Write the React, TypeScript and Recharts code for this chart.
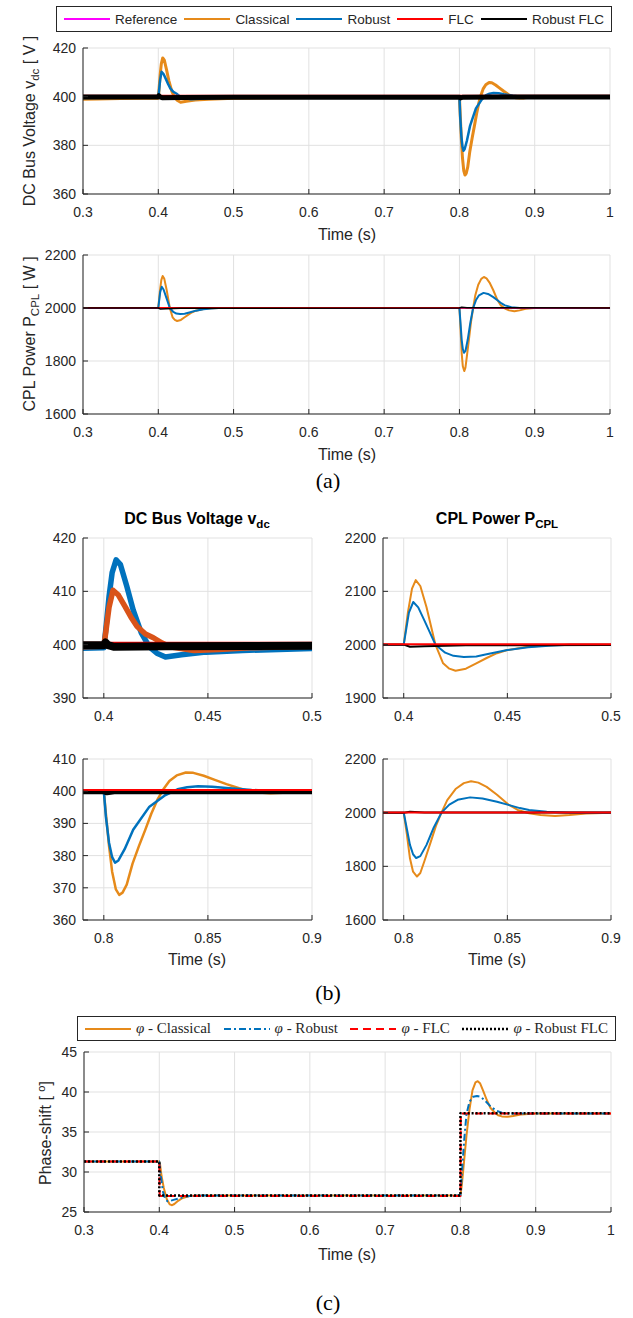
import React from 'react';
import { LineChart, Line, XAxis, YAxis, CartesianGrid } from 'recharts';

type Pt = [number, number];

// axis ticks
const timeTicks = [0.3, 0.4, 0.5, 0.6, 0.7, 0.8, 0.9, 1];
const zoomTicks1 = [0.4, 0.45, 0.5];
const zoomTicks2 = [0.8, 0.85, 0.9];
const vdcTicks = [360, 380, 400, 420];
const vdcTicks1 = [390, 400, 410, 420];
const vdcTicks2 = [360, 370, 380, 390, 400, 410];
const pTicks = [1600, 1800, 2000, 2200];
const pTicks1 = [1900, 2000, 2100, 2200];
const phiTicks = [25, 30, 35, 40, 45];

// DC bus voltage [V] vs time [s]
const vdcReference: Pt[] = [[0.3, 400], [1, 400]];
const vdcClassical: Pt[] = [
  [0.3, 398.9], [0.32, 399.0], [0.35, 399.2], [0.38, 399.3], [0.4, 399.4], [0.401, 403], [0.4025, 409],
  [0.404, 413.5], [0.4059, 415.9], [0.408, 415.0], [0.411, 411.0], [0.4141, 406.5], [0.418, 402.2],
  [0.4219, 399.6], [0.4255, 398.4], [0.4296, 397.7], [0.4373, 398.1], [0.449, 398.6], [0.4667, 398.9],
  [0.5, 399.3], [0.55, 399.6], [0.65, 399.8], [0.79, 399.9], [0.8, 400], [0.801, 393], [0.8025, 383],
  [0.804, 375], [0.8058, 369.5], [0.8074, 367.8], [0.809, 368.5], [0.811, 371], [0.8138, 377.5],
  [0.8169, 383], [0.8199, 388], [0.8228, 393], [0.8257, 397.3], [0.8286, 400.6], [0.8315, 403.2],
  [0.835, 404.9], [0.8394, 405.8], [0.843, 405.7], [0.848, 404.8], [0.853, 403.6], [0.8589, 402.2],
  [0.865, 400.9], [0.87, 400], [0.8744, 399.6], [0.88, 399.4], [0.886, 399.5], [0.893, 399.8], [0.9, 400],
  [1, 400],
];
const vdcRobust: Pt[] = [
  [0.3, 399.5], [0.35, 399.6], [0.39, 399.6], [0.4, 399.7], [0.401, 402.5], [0.4025, 407], [0.4044, 410.2],
  [0.407, 409.3], [0.4103, 407.1], [0.413, 405.2], [0.416, 403.4], [0.42, 402], [0.4238, 401.3],
  [0.428, 400.3], [0.4316, 399.6], [0.4433, 398.9], [0.455, 399.1], [0.47, 399.4], [0.5, 399.7],
  [0.6, 399.9], [0.8, 400], [0.801, 392], [0.8025, 384], [0.804, 379.5], [0.8054, 377.8], [0.807, 378.5],
  [0.81, 382], [0.8141, 388], [0.8219, 395.2], [0.8296, 398.8], [0.8354, 400.6], [0.84, 401.2],
  [0.8453, 401.5], [0.852, 401.4], [0.8589, 401], [0.871, 400.4], [0.88, 400.1], [0.9, 400], [1, 400],
];
const vdcFlc: Pt[] = [[0.3, 400.4], [1, 400.4]];
const vdcRobustFlc: Pt[] = [
  [0.3, 399.9], [0.4, 399.9], [0.4008, 400.4], [0.402, 399.9], [0.405, 399.6], [0.43, 399.7], [0.5, 399.8],
  [0.8, 399.8], [0.8015, 399.5], [0.805, 399.8], [1, 399.9],
];

// CPL power [W] vs time [s]
const pReference: Pt[] = [[0.3, 2000], [1, 2000]];
const pClassical: Pt[] = [
  [0.3, 2000], [0.4, 2000], [0.402, 2060], [0.404, 2105], [0.4058, 2121], [0.408, 2110], [0.411, 2070],
  [0.4153, 2000], [0.419, 1965], [0.422, 1955], [0.425, 1951], [0.43, 1955], [0.435, 1965], [0.44, 1975],
  [0.445, 1984], [0.45, 1990], [0.46, 1996], [0.47, 1999], [0.48, 2000], [0.8, 2000], [0.8015, 1920],
  [0.803, 1830], [0.8045, 1780], [0.8064, 1762], [0.808, 1775], [0.81, 1820], [0.813, 1890], [0.8155, 1950],
  [0.8182, 2000], [0.821, 2047], [0.825, 2088], [0.829, 2110], [0.8325, 2117], [0.836, 2112], [0.84, 2096],
  [0.845, 2067], [0.8505, 2030], [0.855, 2010], [0.8605, 1998], [0.866, 1991], [0.873, 1988], [0.88, 1991],
  [0.888, 1997], [0.9, 2000], [1, 2000],
];
const pRobust: Pt[] = [
  [0.3, 2000], [0.4, 2000], [0.4025, 2060], [0.4046, 2080], [0.407, 2070], [0.41, 2045], [0.4153, 2000],
  [0.42, 1985], [0.424, 1979], [0.429, 1977], [0.435, 1978], [0.44, 1982], [0.45, 1990], [0.46, 1995],
  [0.47, 1998], [0.48, 2000], [0.8, 2000], [0.8015, 1940], [0.803, 1880], [0.8045, 1845], [0.806, 1831],
  [0.808, 1838], [0.811, 1880], [0.8145, 1945], [0.8182, 2000], [0.822, 2030], [0.826, 2048], [0.832, 2057],
  [0.838, 2053], [0.845, 2041], [0.8505, 2029], [0.856, 2017], [0.8605, 2010], [0.869, 2003], [0.88, 2000],
  [1, 2000],
];
const pFlc: Pt[] = [[0.3, 2001], [1, 2001]];
const pRobustFlc: Pt[] = [
  [0.3, 2000], [0.4, 2000], [0.403, 1996], [0.41, 1997], [0.43, 1999], [0.8, 2000], [0.803, 2003],
  [0.81, 2001], [1, 2000],
];

// phase shift [deg] vs time [s]
const phiClassical: Pt[] = [
  [0.3, 31.3], [0.4, 31.3], [0.401, 31.0], [0.403, 29.5], [0.406, 28], [0.41, 26.6], [0.414, 25.95],
  [0.417, 25.85], [0.42, 26.0], [0.425, 26.4], [0.43, 26.7], [0.44, 27.0], [0.45, 27.05], [0.8, 27.05],
  [0.802, 28.5], [0.805, 31.5], [0.808, 34.5], [0.812, 37.8], [0.816, 40.2], [0.82, 41.2], [0.823, 41.35],
  [0.826, 41.1], [0.83, 40.2], [0.835, 39], [0.84, 38], [0.845, 37.5], [0.85, 37.1], [0.855, 36.95],
  [0.862, 36.9], [0.87, 37.0], [0.88, 37.2], [0.9, 37.3], [1, 37.3],
];
const phiRobust: Pt[] = [
  [0.3, 31.3], [0.4, 31.3], [0.402, 29.5], [0.405, 27.5], [0.408, 26.6], [0.411, 26.35], [0.415, 26.4],
  [0.42, 26.55], [0.43, 26.8], [0.44, 27.0], [0.45, 27.05], [0.8, 27.05], [0.802, 30], [0.805, 34],
  [0.808, 37.2], [0.812, 38.8], [0.817, 39.4], [0.822, 39.5], [0.827, 39.4], [0.833, 38.9], [0.84, 38.2],
  [0.847, 37.7], [0.855, 37.4], [0.865, 37.3], [1, 37.3],
];
const phiFlc: Pt[] = [[0.3, 31.3], [0.4, 31.3], [0.4005, 27.0], [0.8, 27.0], [0.8005, 37.3], [1, 37.3]];
const phiRobustFlc: Pt[] = [[0.3, 31.3], [0.4, 31.3], [0.4, 27.05], [0.8, 27.05], [0.8, 37.35], [1, 37.35]];

const ORANGE = '#E68A1A';
const BLUE = '#0072BD';
const RUST = '#D95319';
const RED = '#FF0000';
const PINK = '#FF00FF';
const BLACK = '#000000';
const AX = '#262626';
const SANS = '"Liberation Sans", Arial, Helvetica, sans-serif';
const SERIF = '"Liberation Serif", "Times New Roman", serif';

type Series = { data: Pt[]; color: string; width: number; dash?: string };

const toRows = (pts: Pt[]) => pts.map(([t, v]) => ({ t, v }));
const blank = () => '';

function Panel(props: {
  left: number; top: number; w: number; h: number;
  xDomain: [number, number]; xTicks: number[];
  yDomain: [number, number]; yTicks: number[];
  series: Series[];
}) {
  const { left, top, w, h, xDomain, xTicks, yDomain, yTicks, series } = props;
  const ML = 60, MT = 12, MR = 18, MB = 36;
  const tickStyle = { fill: AX, fontSize: 14, fontFamily: SANS };
  return (
    <div style={{ position: 'absolute', left: left - ML, top: top - MT }}>
      <LineChart width={w + ML + MR} height={h + MT + MB} margin={{ top: MT, right: MR, bottom: 0, left: 0 }}>
        <CartesianGrid xAxisId="x" yAxisId="y" stroke="#e1e1e1" />
        <XAxis xAxisId="x" type="number" dataKey="t" domain={xDomain} ticks={xTicks} allowDataOverflow
          height={MB} stroke={AX} tickSize={-5} tickMargin={18} tick={tickStyle} interval={0} />
        <XAxis xAxisId="top" orientation="top" type="number" dataKey="t" domain={xDomain} ticks={xTicks}
          allowDataOverflow height={0} stroke={AX} tickSize={-5} tickFormatter={blank} interval={0} />
        <YAxis yAxisId="y" type="number" domain={yDomain} ticks={yTicks} allowDataOverflow width={ML}
          stroke={AX} tickSize={-5} tickMargin={12} tick={tickStyle} interval={0} />
        <YAxis yAxisId="right" orientation="right" type="number" domain={yDomain} ticks={yTicks}
          allowDataOverflow width={0} stroke={AX} tickSize={-5} tickFormatter={blank} interval={0} />
        {series.map((s, i) => (
          <Line key={i} xAxisId="x" yAxisId="y" data={toRows(s.data)} dataKey="v" type="linear"
            stroke={s.color} strokeWidth={s.width} strokeDasharray={s.dash} dot={false} activeDot={false}
            isAnimationActive={false} strokeLinejoin="round" />
        ))}
      </LineChart>
    </div>
  );
}

function Text(props: { x: number; y: number; rotate?: boolean; style?: React.CSSProperties; children: React.ReactNode }) {
  const { x, y, rotate, style, children } = props;
  return (
    <div style={{
      position: 'absolute', left: x, top: y, whiteSpace: 'nowrap', lineHeight: 1, color: AX,
      fontFamily: SANS, fontSize: 16,
      transform: `translate(-50%, -50%)${rotate ? ' rotate(-90deg)' : ''}`, ...style,
    }}>{children}</div>
  );
}

const Sub = ({ children }: { children: React.ReactNode }) => (
  <span style={{ fontSize: '0.72em', position: 'relative', top: '0.38em' }}>{children}</span>
);

function Swatch({ color, dash, width = 2 }: { color: string; dash?: string; width?: number }) {
  return (
    <svg width={46} height={10} style={{ display: 'block', flex: 'none' }}>
      <line x1={0} y1={5} x2={46} y2={5} stroke={color} strokeWidth={width} strokeDasharray={dash} />
    </svg>
  );
}

function Legend(props: { left: number; top: number; w: number; h: number; items: { label: React.ReactNode; color: string; dash?: string; width?: number }[]; font: string; size: number; gap: number }) {
  const { left, top, w, h, items, font, size, gap } = props;
  return (
    <div style={{
      position: 'absolute', left, top, width: w, height: h, boxSizing: 'border-box',
      border: `1px solid ${AX}`, display: 'flex', alignItems: 'center', justifyContent: 'space-between',
      padding: '0 7px', fontFamily: font, fontSize: size, color: AX, background: '#fff',
    }}>
      {items.map((it, i) => (
        <div key={i} style={{ display: 'flex', alignItems: 'center', gap }}>
          <Swatch color={it.color} dash={it.dash} width={it.width} />
          <span style={{ whiteSpace: 'nowrap' }}>{it.label}</span>
        </div>
      ))}
    </div>
  );
}

export default function App() {
  const T: [number, number] = [0.3, 1];
  const Z1: [number, number] = [0.39, 0.5];
  const Z2: [number, number] = [0.79, 0.9];
  const phi = <i>φ</i>;
  return (
    <div style={{ position: 'absolute', left: 0, top: 0, width: 633, height: 1318, background: '#fff' }}>
      <Panel left={83} top={48} w={527} h={146} xDomain={T} xTicks={timeTicks} yDomain={[360, 420]} yTicks={vdcTicks}
        series={[
          { data: vdcReference, color: PINK, width: 2 },
          { data: vdcClassical, color: ORANGE, width: 3 },
          { data: vdcRobust, color: BLUE, width: 2.5 },
          { data: vdcFlc, color: RED, width: 2 },
          { data: vdcRobustFlc, color: BLACK, width: 5 },
        ]} />
      <Legend left={56} top={6} w={556} h={26} font={SANS} size={13.5} gap={5} items={[
        { label: 'Reference', color: PINK },
        { label: 'Classical', color: ORANGE },
        { label: 'Robust', color: BLUE },
        { label: 'FLC', color: RED },
        { label: 'Robust FLC', color: BLACK },
      ]} />
      <Text x={30} y={121} rotate>DC Bus Voltage v<Sub>dc</Sub> [ V ]</Text>
      <Text x={347} y={235}>Time (s)</Text>

      <Panel left={83} top={255} w={527} h={159} xDomain={T} xTicks={timeTicks} yDomain={[1600, 2200]} yTicks={pTicks}
        series={[
          { data: pClassical, color: ORANGE, width: 2 },
          { data: pRobust, color: BLUE, width: 2 },
          { data: pReference, color: PINK, width: 1.5 },
          { data: pFlc, color: RED, width: 1.5 },
          { data: pRobustFlc, color: BLACK, width: 1.5 },
        ]} />
      <Text x={30} y={334} rotate>CPL Power P<Sub>CPL</Sub> [ W ]</Text>
      <Text x={347} y={455}>Time (s)</Text>
      <Text x={328} y={481} style={{ fontFamily: SERIF, fontSize: 22, color: '#000' }}>(a)</Text>

      <Text x={197} y={519} style={{ fontWeight: 'bold', color: '#000' }}>DC Bus Voltage v<Sub>dc</Sub></Text>
      <Text x={497} y={519} style={{ fontWeight: 'bold', color: '#000' }}>CPL Power P<Sub>CPL</Sub></Text>

      <Panel left={83} top={538} w={229} h={160} xDomain={Z1} xTicks={zoomTicks1} yDomain={[390, 420]} yTicks={vdcTicks1}
        series={[
          { data: vdcClassical, color: BLUE, width: 5.5 },
          { data: vdcRobust, color: RUST, width: 5.5 },
          { data: vdcFlc, color: RED, width: 1.5 },
          { data: vdcRobustFlc, color: BLACK, width: 8 },
        ]} />
      <Panel left={383} top={538} w={228} h={160} xDomain={Z1} xTicks={zoomTicks1} yDomain={[1900, 2200]} yTicks={pTicks1}
        series={[
          { data: pClassical, color: ORANGE, width: 2 },
          { data: pRobust, color: BLUE, width: 2 },
          { data: pRobustFlc, color: BLACK, width: 2 },
          { data: pFlc, color: RED, width: 2 },
        ]} />
      <Panel left={83} top={759} w={229} h={161} xDomain={Z2} xTicks={zoomTicks2} yDomain={[360, 410]} yTicks={vdcTicks2}
        series={[
          { data: vdcClassical, color: ORANGE, width: 2.5 },
          { data: vdcRobust, color: BLUE, width: 2.5 },
          { data: vdcRobustFlc, color: BLACK, width: 5 },
          { data: vdcFlc, color: RED, width: 2 },
        ]} />
      <Panel left={383} top={759} w={228} h={161} xDomain={Z2} xTicks={zoomTicks2} yDomain={[1600, 2200]} yTicks={pTicks}
        series={[
          { data: pClassical, color: ORANGE, width: 2 },
          { data: pRobust, color: BLUE, width: 2 },
          { data: pRobustFlc, color: BLACK, width: 2 },
          { data: pFlc, color: RED, width: 2 },
        ]} />
      <Text x={197} y={960}>Time (s)</Text>
      <Text x={497} y={960}>Time (s)</Text>
      <Text x={328} y={993} style={{ fontFamily: SERIF, fontSize: 22, color: '#000' }}>(b)</Text>

      <Panel left={84} top={1052} w={527} h={160} xDomain={T} xTicks={timeTicks} yDomain={[25, 45]} yTicks={phiTicks}
        series={[
          { data: phiClassical, color: ORANGE, width: 2 },
          { data: phiRobust, color: BLUE, width: 2, dash: '7 3 2 3' },
          { data: phiFlc, color: RED, width: 2, dash: '8 5' },
          { data: phiRobustFlc, color: BLACK, width: 2.5, dash: '2 2' },
        ]} />
      <Legend left={77} top={1016} w={539} h={25} font={SERIF} size={15} gap={5} items={[
        { label: <>{phi} - Classical</>, color: ORANGE },
        { label: <>{phi} - Robust</>, color: BLUE, dash: '7 3 2 3' },
        { label: <>{phi} - FLC</>, color: RED, dash: '8 5' },
        { label: <>{phi} - Robust FLC</>, color: BLACK, dash: '2 2', width: 2.5 },
      ]} />
      <Text x={46} y={1133} rotate>Phase-shift [ <sup style={{ fontSize: '0.7em', lineHeight: 0 }}>o</sup>]</Text>
      <Text x={347} y={1255}>Time (s)</Text>
      <Text x={328} y={1303} style={{ fontFamily: SERIF, fontSize: 22, color: '#000' }}>(c)</Text>
    </div>
  );
}
